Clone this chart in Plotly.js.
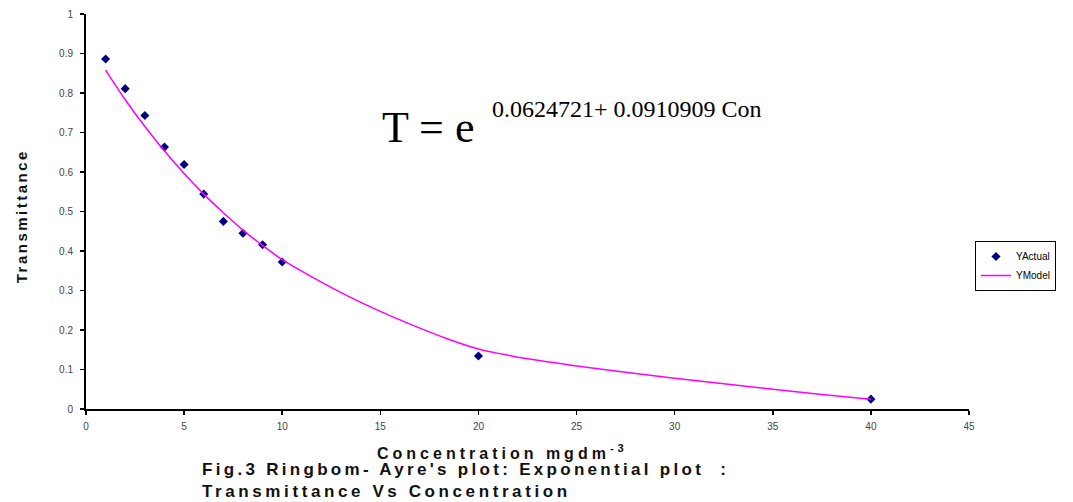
<!DOCTYPE html>
<html>
<head>
<meta charset="utf-8">
<script src="https://cdn.plot.ly/plotly-3.0.1.min.js"></script>
<style>html,body{margin:0;padding:0;background:#fff;}#chart{width:1073px;height:502px;}</style>
</head>
<body>
<div id="chart"></div>
<script>
// Data
const concActual = [1, 2, 3, 4, 5, 6, 7, 8, 9, 10, 20, 40];
const yActual = [0.886, 0.811, 0.743, 0.663, 0.619, 0.544, 0.475, 0.445, 0.416, 0.372, 0.134, 0.025];
const concModel = [1, 2, 3, 4, 5, 6, 7, 8, 9, 10, 11.6, 13.3, 15, 16.7, 18.4, 20, 21.2, 22.5, 25, 27.5, 30, 32.5, 35, 37.5, 40];
const yModel = [0.858, 0.783, 0.715, 0.653, 0.596, 0.544, 0.497, 0.453, 0.414, 0.378, 0.332, 0.287, 0.247, 0.211, 0.178, 0.152, 0.139, 0.127, 0.109, 0.093, 0.078, 0.064, 0.050, 0.037, 0.025];
const xTicks = [0, 5, 10, 15, 20, 25, 30, 35, 40, 45];
const yTicks = [0, 0.1, 0.2, 0.3, 0.4, 0.5, 0.6, 0.7, 0.8, 0.9, 1];

const traces = [
  {x: concActual, y: yActual, name: 'YActual', mode: 'markers', type: 'scatter',
   marker: {symbol: 'diamond', size: 7, color: '#000080'}},
  {x: concModel, y: yModel, name: 'YModel', mode: 'lines', type: 'scatter',
   line: {color: '#FF00FF', width: 1.5, shape: 'spline', smoothing: 1}}
];

const sans = 'Liberation Sans, Arial, sans-serif';
const serif = 'Liberation Serif, Times New Roman, serif';
const tickFont = {family: sans, size: 10, color: '#444'};
const layout = {
  width: 1073, height: 502,
  margin: {l: 86, r: 104, t: 14, b: 93},
  paper_bgcolor: '#fff', plot_bgcolor: '#fff',
  showlegend: true,
  legend: {x: 1.0068, y: 0.362, xanchor: 'left', yanchor: 'middle',
           bordercolor: '#000', borderwidth: 1, bgcolor: '#fff',
           font: {family: sans, size: 10, color: '#000'},
           tracegroupgap: 0, itemwidth: 30},
  xaxis: {range: [0, 45], tickvals: xTicks, ticktext: xTicks.map(String),
          showgrid: false, zeroline: false, showline: true, linecolor: '#000', linewidth: 2,
          ticks: 'outside', ticklen: 4, tickwidth: 1.5, tickcolor: '#000', tickfont: tickFont,
          ticklabelstandoff: 3},
  yaxis: {range: [0, 1], tickvals: yTicks, ticktext: yTicks.map(String),
          showgrid: false, zeroline: false, showline: true, linecolor: '#000', linewidth: 2,
          ticks: 'outside', ticklen: 4, tickwidth: 1.5, tickcolor: '#000', tickfont: tickFont,
          ticklabelstandoff: 5},
  annotations: [
    {xref: 'paper', yref: 'paper', x: 0.327, y: -0.11, xanchor: 'left', yanchor: 'middle', showarrow: false, align: 'left',
     text: '<b>Concentration mgdm<sup>-3</sup></b>',
     font: {family: sans, size: 16, color: '#111'}},
    {xref: 'paper', yref: 'paper', x: 0.129, y: -0.1544, xanchor: 'left', yanchor: 'middle', showarrow: false, align: 'left',
     text: "<b>Fig.3 Ringbom- Ayre's plot: Exponential plot  :</b>",
     font: {family: sans, size: 17, color: '#111'}},
    {xref: 'paper', yref: 'paper', x: 0.129, y: -0.2101, xanchor: 'left', yanchor: 'middle', showarrow: false, align: 'left',
     text: '<b>Transmittance Vs Concentration</b>',
     font: {family: sans, size: 17, color: '#111'}},
    {xref: 'paper', yref: 'paper', x: -0.0736, y: 0.4886, xanchor: 'center', yanchor: 'middle', showarrow: false,
     textangle: -90, text: '<b>Transmittance</b>',
     font: {family: sans, size: 15, color: '#111'}},
    {xref: 'paper', yref: 'paper', x: 0.333, y: 0.7122, xanchor: 'left', yanchor: 'middle', showarrow: false, align: 'left',
     text: 'T = e',
     font: {family: serif, size: 44, color: '#000'}},
    {xref: 'paper', yref: 'paper', x: 0.4575, y: 0.7605, xanchor: 'left', yanchor: 'middle', showarrow: false, align: 'left',
     text: '0.0624721+ 0.0910909 Con',
     font: {family: serif, size: 24, color: '#000'}}
  ]
};
const spacing = ['4px', '3.3px', '3.6px', '2.5px', null, null];
Plotly.newPlot('chart', traces, layout, {displayModeBar: false, staticPlot: true}).then(function (gd) {
  const texts = gd.querySelectorAll('.annotation-text');
  texts.forEach(function (t, i) {
    if (spacing[i]) t.style.letterSpacing = spacing[i];
  });
});
</script>
</body>
</html>
